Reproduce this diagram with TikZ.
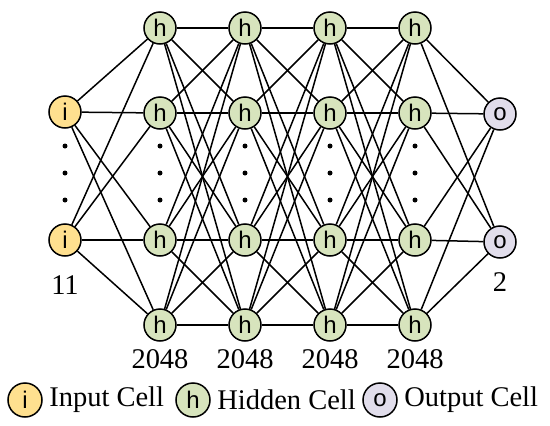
\documentclass[tikz,border=0pt]{standalone}
\usepackage{fontspec}
\setmainfont{Liberation Serif}
\newfontfamily\cellfont{Liberation Sans}
\definecolor{inputfill}{HTML}{FFE08F}
\definecolor{hiddenfill}{HTML}{D7E4BD}
\definecolor{outputfill}{HTML}{E1DDEB}

\begin{document}
\begin{tikzpicture}[
            x=1pt, y=-1pt,
            cell/.style={
                circle, draw=black, fill=#1, line width=1.5pt,
                minimum size=32pt, inner sep=0pt,
                font=\cellfont\fontsize{24}{24}\selectfont
            },
            keycell/.style={cell=#1, minimum size=34pt},
            link/.style={black, line width=1.5pt},
            count/.style={font=\fontsize{28.5}{28.5}\selectfont},
            keytext/.style={count, anchor=west, xshift=3pt},
            dot/.style={circle, fill=black, inner sep=0pt, minimum size=5pt}
        ]
        \useasboundingbox (0,0) rectangle (550,426);

        % --- Input layer ---
        \node[cell=inputfill] (in1) at (65,112) {i};
        \node[cell=inputfill] (in2) at (65,240) {i};
        \node[count] (nin) at (65,285) {11};

        % --- Hidden layers ---
        \foreach \c/\x in {1/160,2/245,3/330,4/415} {
            \foreach \r/\y in {1/28,2/113,3/240,4/325}
                \node[cell=hiddenfill] (h\c\r) at (\x,\y) {h};
            \node[count] (nh\c) at (\x,359) {2048};
        }

        % --- Output layer ---
        \node[cell=outputfill] (out1) at (500,114) {o};
        \node[cell=outputfill] (out2) at (500,242) {o};
        \node[count] (nout) at (500,282) {2};

        % --- Dots between cells ---
        \foreach \x in {65,160,245,330,415}
            \foreach \y in {146,173,200}
                \node[dot] at (\x,\y) {};

        % --- Connectors ---
        \foreach \i in {1,2}
            \foreach \r in {1,...,4}
                \draw[link] (in\i) -- (h1\r);
        \foreach \c/\n in {1/2,2/3,3/4}
            \foreach \r in {1,...,4}
                \foreach \s in {1,...,4}
                    \draw[link] (h\c\r) -- (h\n\s);
        \foreach \r in {1,...,4}
            \foreach \o in {1,2}
                \draw[link] (h4\r) -- (out\o);

        % --- Legend ---
        \node[keycell=inputfill] (kin) at (25,400) {i};
        \node[keytext] (tin) at (kin.east) {Input Cell};
        \node[keycell=hiddenfill] (khid) at (193,400) {h};
        \node[keytext] (thid) at (khid.east) {Hidden Cell};
        \node[keycell=outputfill] (kout) at (380,400) {o};
        \node[keytext] (tout) at (kout.east) {Output Cell};

    \end{tikzpicture}
\end{document}
